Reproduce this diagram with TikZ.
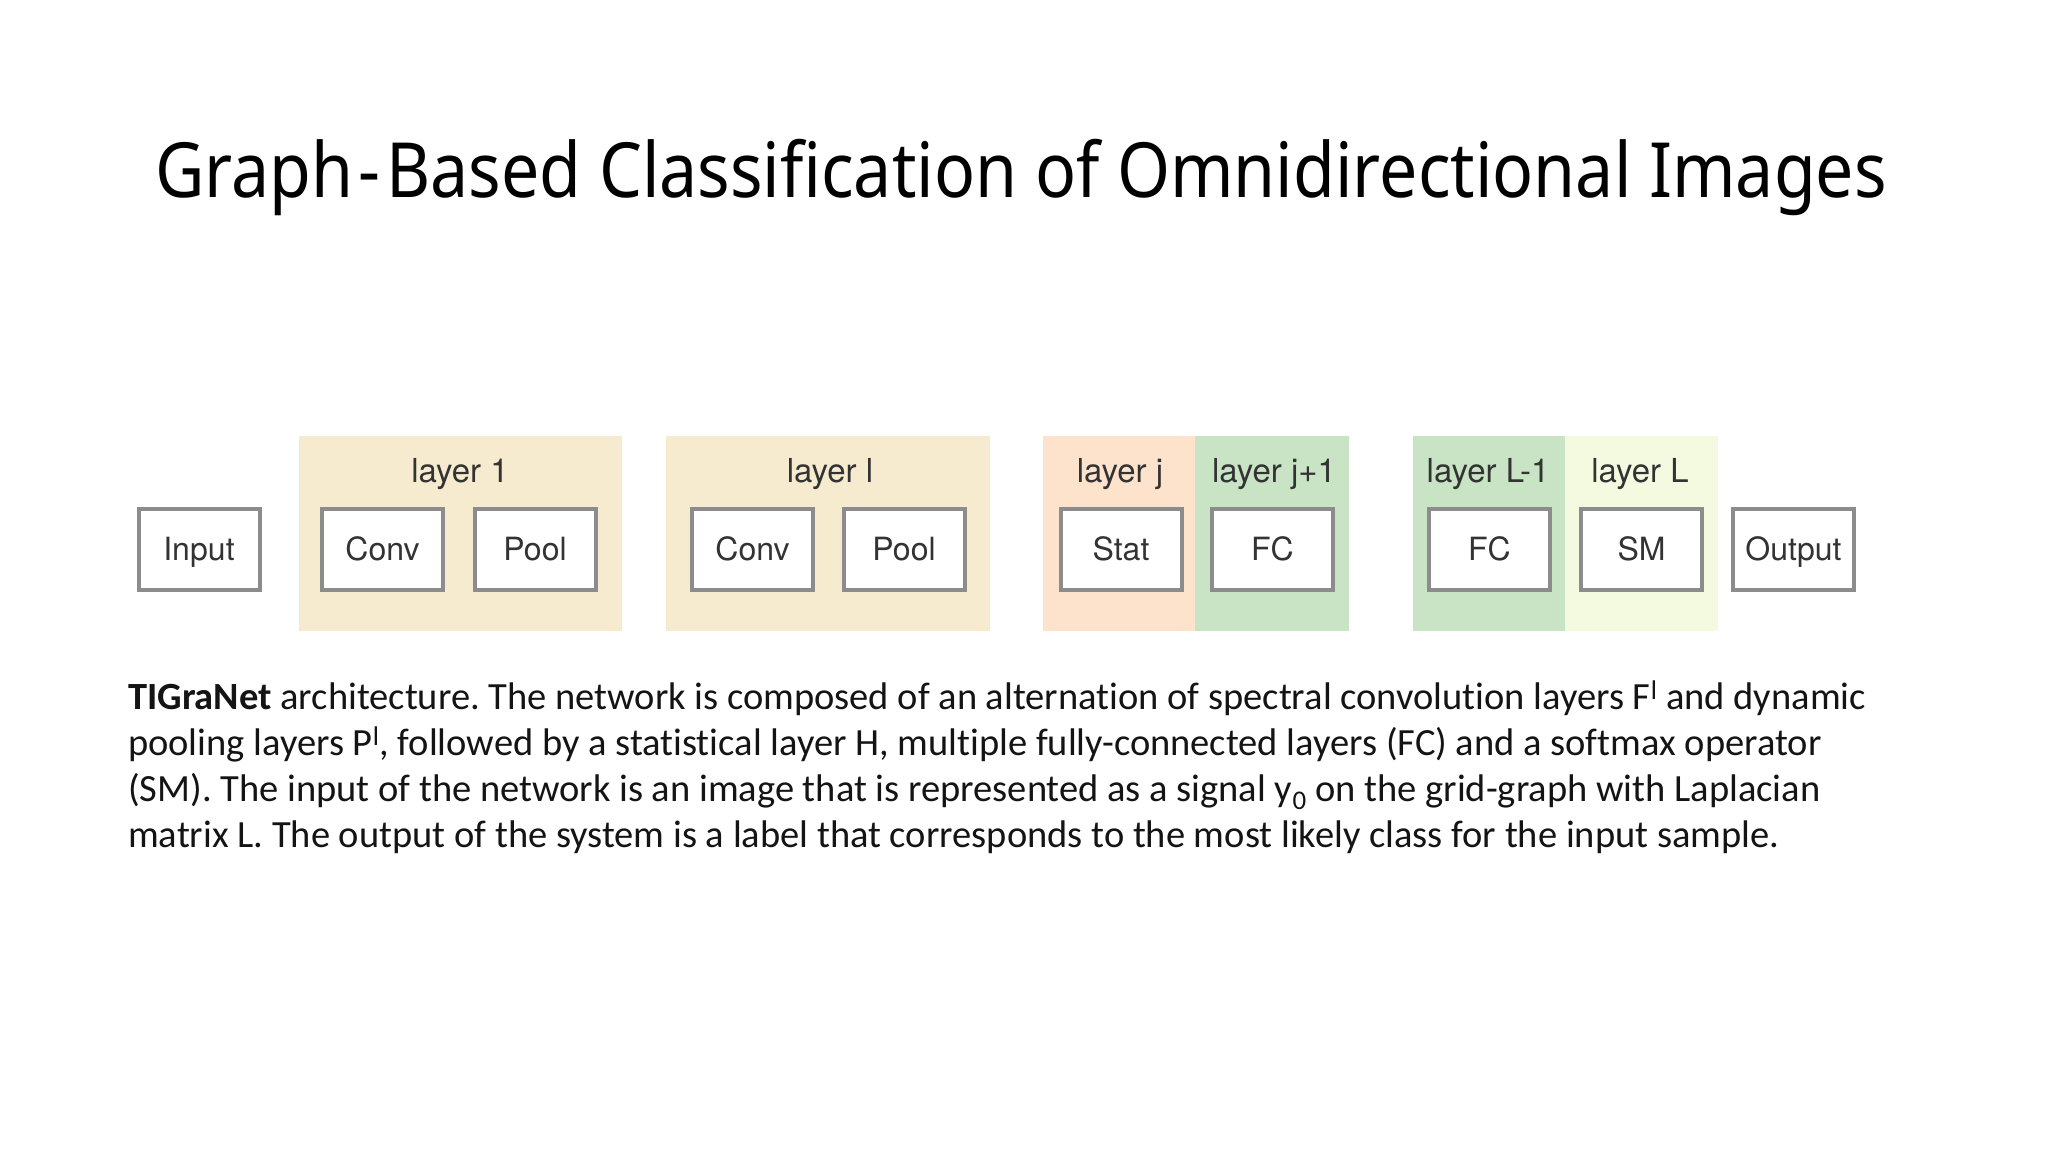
\documentclass[tikz,border=0pt]{standalone}
\usepackage{fontspec}
\newfontfamily\titlefont{Noto Sans}
\newfontfamily\boxfont{TeX Gyre Heros}
\newfontfamily\capfont[Ligatures={NoCommon}]{Carlito}
\definecolor{beige}{HTML}{F6EBCF}
\definecolor{peach}{HTML}{FDE3CC}
\definecolor{lgreen}{HTML}{C8E4C5}
\definecolor{pale}{HTML}{F4FADF}
\definecolor{bordergray}{HTML}{8C8C8C}
\definecolor{boxtext}{HTML}{333333}
\tikzset{
  blockbox/.style={draw=bordergray, line width=4pt, fill=white, minimum width=121pt, minimum height=81pt,
    inner sep=0pt, font=\boxfont\fontsize{32}{38}\selectfont, text=boxtext, text height=22pt, text depth=0pt},
  layerlabel/.style={anchor=base, font=\boxfont\fontsize{33}{38}\selectfont, text=boxtext, inner sep=0pt},
  capline/.style={anchor=base west, inner sep=0pt, font=\capfont\fontsize{38.5}{46}\selectfont, text=black!92}
}
\begin{document}
\frenchspacing
\begin{tikzpicture}[x=1pt,y=-1pt]
\fill[white] (0,0) rectangle (2048,1152);
\useasboundingbox (0,0) rectangle (2048,1152);
% title
\node[anchor=base, inner sep=0pt, font=\titlefont\fontsize{68}{80}\selectfont] (title) at (1021,197) {\scalebox{1}[1.12]{Graph\kern0.08em-\kern0.08em Based Classification of Omnidirectional Images}};
% layer backgrounds
\fill[beige] (299,436) rectangle (622,631);
\fill[beige] (666,436) rectangle (990,631);
\fill[peach] (1043,436) rectangle (1195,631);
\fill[lgreen] (1195,436) rectangle (1349,631);
\fill[lgreen] (1413,436) rectangle (1565,631);
\fill[pale] (1565,436) rectangle (1718,631);
% layer labels
\node[layerlabel] (l1) at (460,482) {layer 1};
\node[layerlabel] (ll) at (830,482) {layer l};
\node[layerlabel] (lj) at (1120,482) {layer j};
\node[layerlabel] (lj1) at (1274,482) {layer j+1};
\node[layerlabel] (lL1) at (1488,482) {layer L-1};
\node[layerlabel] (lL) at (1640,482) {layer L};
% boxes
\node[blockbox] (input) at (199,549.5) {Input};
\node[blockbox] (conv1) at (382.5,549.5) {Conv};
\node[blockbox] (pool1) at (535,549.5) {Pool};
\node[blockbox] (convl) at (752.5,549.5) {Conv};
\node[blockbox] (pooll) at (904,549.5) {Pool};
\node[blockbox] (stat) at (1121,549.5) {Stat};
\node[blockbox] (fc1) at (1272.5,549.5) {FC};
\node[blockbox] (fc2) at (1489.5,549.5) {FC};
\node[blockbox] (sm) at (1641.5,549.5) {SM};
\node[blockbox] (output) at (1793.5,549.5) {Output};
% caption
\node[capline] (c1) at (128,709) {\textbf{TIGraNet} architecture. The network is composed of an alternation of spectral convolution layers F\textsuperscript{l} and dynamic};
\node[capline] (c2) at (128,755) {pooling layers P\textsuperscript{l}, followed by a statistical layer H, multiple fully-connected layers (FC) and a softmax operator};
\node[capline] (c3) at (128,801) {(SM). The input of the network is an image that is represented as a signal y\textsubscript{0} on the grid-graph with Laplacian};
\node[capline] (c4) at (128,847) {matrix L. The output of the system is a label that corresponds to the most likely class for the input sample.};
\end{tikzpicture}
\end{document}
